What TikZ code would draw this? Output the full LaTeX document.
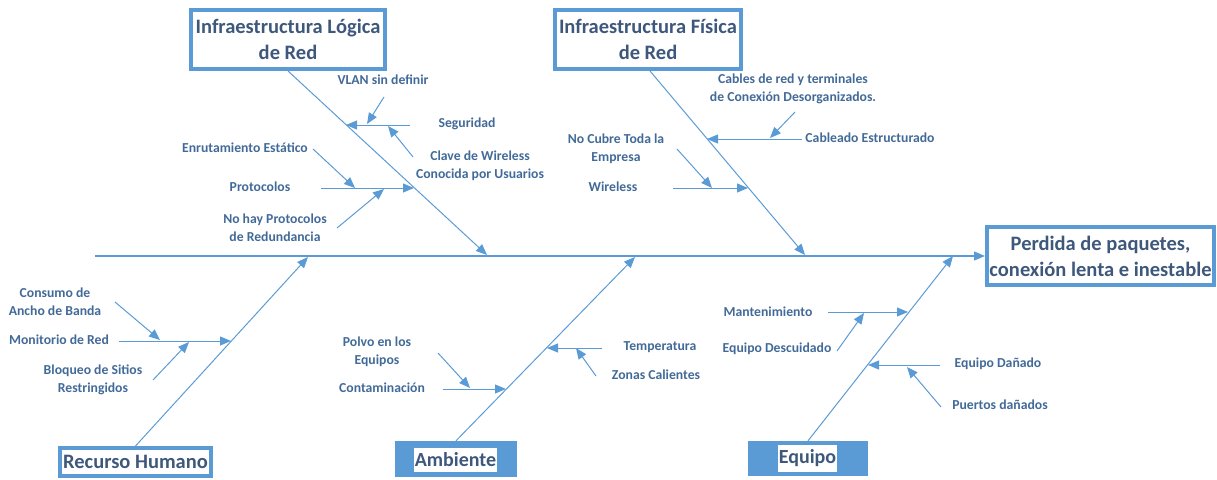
\documentclass[tikz,border=0pt]{standalone}
\usepackage{fontspec}
\setmainfont{Carlito}
\usetikzlibrary{arrows.meta}
\definecolor{lc}{RGB}{91,155,213}
\definecolor{tc}{RGB}{66,106,152}
\definecolor{tt}{RGB}{62,88,124}
\tikzset{
  bone/.style={draw=lc, line width=1pt, -{Triangle[length=11pt,width=9pt]}},
  lbl/.style={font={\bfseries\fontsize{13.7}{18}\selectfont}, text=tc, align=center, inner sep=0pt},
  cbox/.style={draw=lc, line width=4pt, font={\bfseries\fontsize{20.5}{26}\selectfont}, text=tt, align=center, inner sep=0pt},
  fbox/.style={fill=lc, draw=none, inner sep=0pt},
  wbox/.style={fill=white, font={\bfseries\fontsize{20}{24}\selectfont}, text=tt, inner sep=0pt},
}
\begin{document}
\begin{tikzpicture}[x=1pt,y=-1pt]
\useasboundingbox (0,0) rectangle (1217,479);
% boxes
\node[cbox, minimum width=194pt, minimum height=59pt] (box1) at (288,39.5) {Infraestructura Lógica\\de Red};
\node[cbox, minimum width=186pt, minimum height=59pt] (box2) at (648,39.5) {Infraestructura Física\\de Red};
\node[cbox, minimum width=227pt, minimum height=58pt] (eff) at (1100.5,256) {Perdida de paquetes,\\conexión lenta e inestable};
\node[cbox, minimum width=151pt, minimum height=28pt] (box3) at (135.5,462) {Recurso Humano};
\node[fbox, minimum width=122pt, minimum height=36pt] (box4) at (456,459) {};
\node[wbox, minimum width=83pt, minimum height=24pt] (box4t) at (455.5,460) {Ambiente};
\node[fbox, minimum width=120pt, minimum height=35pt] (box5) at (808,458.5) {};
\node[wbox, minimum width=59pt, minimum height=27pt] (box5t) at (807.5,458.5) {Equipo};
% spine
\coordinate (sp0) at (95,256);
\draw[bone, line width=1.3pt] (sp0) -- (eff.west);
% bone end points on spine
\coordinate (e1) at (487,255);
\coordinate (e2) at (805,255);
\coordinate (e3) at (308,257);
\coordinate (e4) at (635,257);
\coordinate (e5) at (953,256);
\coordinate (s2) at (650,71);
\draw[bone] (box1.south) -- (e1);
\draw[bone] (s2) -- (e2);
\draw[bone] (box3.north) -- (e3);
\draw[bone] (box4.north) -- (e4);
\draw[bone] (box5.north) -- (e5);
% --- Infraestructura Logica
\coordinate (a1) at (410,125); \coordinate (a1e) at (346,125);
\draw[bone] (a1) -- (a1e);
\coordinate (a2) at (384,97); \coordinate (a2e) at (367,124);
\draw[bone] (a2) -- (a2e);
\coordinate (a3) at (413,157); \coordinate (a3e) at (388,126);
\draw[bone] (a3) -- (a3e);
\coordinate (a4) at (321,188); \coordinate (a4e) at (414,188);
\draw[bone] (a4) -- (a4e);
\coordinate (a5) at (313,149); \coordinate (a5e) at (355,188);
\draw[bone] (a5) -- (a5e);
\coordinate (a6) at (337,228); \coordinate (a6e) at (384,189);
\draw[bone] (a6) -- (a6e);
\node[lbl] (t1) at (383,80) {VLAN sin definir};
\node[lbl] (t2) at (467,124) {Seguridad};
\node[lbl] (t3) at (480,166) {Clave de Wireless\\Conocida por Usuarios};
\node[lbl] (t4) at (245,148) {Enrutamiento Estático};
\node[lbl] (t5) at (260,187) {Protocolos};
\node[lbl] (t6) at (275,228) {No hay Protocolos\\de Redundancia};
% --- Infraestructura Fisica
\coordinate (b1) at (802,139); \coordinate (b1e) at (707,139);
\draw[bone] (b1) -- (b1e);
\coordinate (b2) at (795,112); \coordinate (b2e) at (770,138);
\draw[bone] (b2) -- (b2e);
\coordinate (b3) at (673,188); \coordinate (b3e) at (748,188);
\draw[bone] (b3) -- (b3e);
\coordinate (b4) at (677,149); \coordinate (b4e) at (712,188);
\draw[bone] (b4) -- (b4e);
\node[lbl] (u1) at (793,89) {Cables de red y terminales\\de Conexión Desorganizados.};
\node[lbl] (u2) at (870,138) {Cableado Estructurado};
\node[lbl] (u3) at (616,149) {No Cubre Toda la\\Empresa};
\node[lbl] (u4) at (613,187) {Wireless};
% --- Recurso Humano
\coordinate (c1) at (119,341); \coordinate (c1e) at (231,341);
\draw[bone] (c1) -- (c1e);
\coordinate (c2) at (115,302); \coordinate (c2e) at (160,340);
\draw[bone] (c2) -- (c2e);
\coordinate (c3) at (153,380); \coordinate (c3e) at (189,342);
\draw[bone] (c3) -- (c3e);
\node[lbl] (v1) at (55,302) {Consumo de\\Ancho de Banda};
\node[lbl] (v2) at (59,340) {Monitorio de Red};
\node[lbl] (v3) at (93,380) {Bloqueo de Sitios\\Restringidos};
% --- Ambiente
\coordinate (d1) at (602,348); \coordinate (d1e) at (547,348);
\draw[bone] (d1) -- (d1e);
\coordinate (d2) at (596,376); \coordinate (d2e) at (576,348);
\draw[bone] (d2) -- (d2e);
\coordinate (d3) at (443,389); \coordinate (d3e) at (506,389);
\draw[bone] (d3) -- (d3e);
\coordinate (d4) at (438,353); \coordinate (d4e) at (470,388);
\draw[bone] (d4) -- (d4e);
\node[lbl] (w1) at (660,347) {Temperatura};
\node[lbl] (w2) at (656,375) {Zonas Calientes};
\node[lbl] (w3) at (377,352) {Polvo en los\\Equipos};
\node[lbl] (w4) at (382,388) {Contaminación};
% --- Equipo
\coordinate (f1) at (828,312); \coordinate (f1e) at (908,312);
\draw[bone] (f1) -- (f1e);
\coordinate (f2) at (837,351); \coordinate (f2e) at (864,313);
\draw[bone] (f2) -- (f2e);
\coordinate (f3) at (940,365); \coordinate (f3e) at (868,365);
\draw[bone] (f3) -- (f3e);
\coordinate (f4) at (941,407); \coordinate (f4e) at (907,367);
\draw[bone] (f4) -- (f4e);
\node[lbl] (x1) at (768,312) {Mantenimiento};
\node[lbl] (x2) at (777,349) {Equipo Descuidado};
\node[lbl] (x3) at (998,364) {Equipo Dañado};
\node[lbl] (x4) at (1000,405) {Puertos dañados};
\end{tikzpicture}
\end{document}
